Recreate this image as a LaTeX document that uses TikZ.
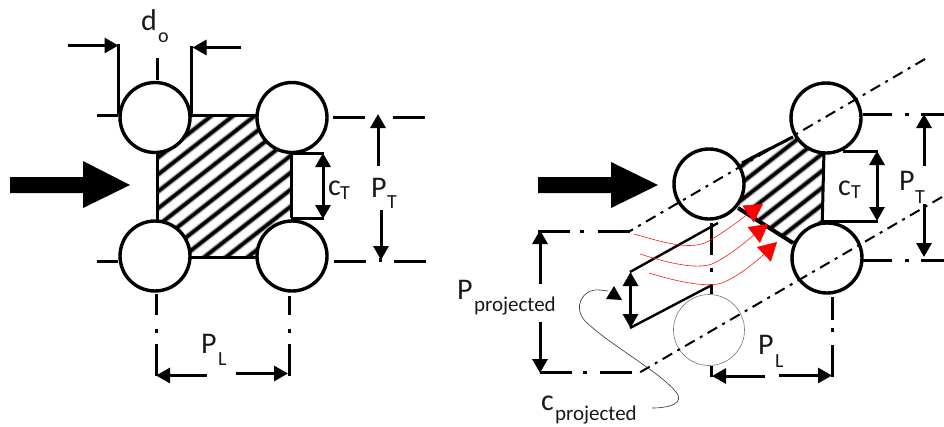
\documentclass[tikz,border=0pt]{standalone}
\usepackage{fontspec}
\setmainfont{Carlito}
\usetikzlibrary{arrows.meta}
\tikzset{
  x=1pt,y=-1pt,
  tube/.style={circle,draw=black,line width=3.4pt,fill=white,minimum size=70pt,inner sep=0pt,outer sep=0pt},
  ghost/.style={circle,draw=black!55,line width=.6pt,minimum size=71pt,inner sep=0pt,outer sep=0pt},
  heavy/.style={line width=3pt,draw=black},
  mid/.style={line width=2.4pt,draw=black},
  dim/.style={line width=3pt,draw=black,-{Triangle[length=14pt,width=15pt]}},
  dimtwo/.style={line width=3pt,draw=black,{Triangle[length=14pt,width=15pt]}-{Triangle[length=14pt,width=15pt]}},
  centre/.style={line width=2pt,draw=black,dash pattern=on 11pt off 6pt on 3pt off 6pt},
  redflow/.style={draw=red!90!white,line width=.6pt,-{Triangle[length=18pt,width=20pt,fill=red,color=red]}},
  leader/.style={draw=black!80,line width=.6pt},
  stripe/.style={line width=6.4pt,draw=black!18},
  stripemid/.style={line width=4.6pt,draw=black!55},
  stripecore/.style={line width=3pt,draw=black},
  lab/.style={inner sep=0pt,outer sep=0pt,font=\fontsize{30}{30}\selectfont,text=black!90},
  sublab/.style={inner sep=0pt,outer sep=0pt,font=\fontsize{20}{20}\selectfont,text=black!90},
  sublabb/.style={inner sep=0pt,outer sep=0pt,font=\fontsize{21}{21}\selectfont,text=black!90},
  bigarrow/.style={fill=black,draw=none}
}
\begin{document}
\begin{tikzpicture}
\useasboundingbox (0,0) rectangle (944,426);
% left hatched region
\begin{scope}
\clip (157,115) rectangle (291,257);
\foreach \k in {-4,...,13}{
  \draw[stripe] ({27+21.7*\k},260) -- ++(220,-172);
  \draw[stripemid] ({27+21.7*\k},260) -- ++(220,-172);
  \draw[stripecore] ({27+21.7*\k},260) -- ++(220,-172);
}
\end{scope}
% hatched region outline
\draw[heavy] (157,115) -- (291,115);
\draw[heavy] (157,257) -- (291,257);
\draw[heavy] (157,115) -- (157,257);
\draw[heavy] (291,153) -- (291,218);
% left tubes
\node[tube] (la) at (155,117.5) {};
\node[tube] (lb) at (292,117.5) {};
\node[tube] (lc) at (155,256) {};
\node[tube] (ld) at (292,256) {};
% flow arrow left
\path[bigarrow] (10,177) -- (83,177) -- (83,161) -- (130,185) -- (83,208) -- (83,193) -- (10,193) -- cycle;
% do dimension
\draw[heavy] (118.5,44) -- (118.5,115);
\draw[heavy] (191,46) -- (191,115);
\draw[heavy] (157,58) -- (157,80);
\draw[dim] (68,45.5) -- (118.5,45.5);
\draw[dim] (241,47.5) -- (192.5,47.5);
\node[lab,anchor=base west] (ldo) at (141,30) {d};
\node[sublab,anchor=base west] (ldos) at (158,42) {o};
% left ticks and PT
\draw[heavy] (97,115) -- (118,115);
\draw[heavy] (97,261) -- (118,261);
\draw[heavy] (333,117.5) -- (365,117.5);
\draw[heavy] (393,117.5) -- (425,117.5);
\draw[heavy] (334,261) -- (366,261);
\draw[heavy] (394,261) -- (426,261);
\draw[heavy] (380,258) -- (380,262);
\draw[heavy] (291,153) -- (324,153);
\draw[heavy] (291,218) -- (324,218);
\draw[dimtwo] (323,153) -- (323,219);
\draw[dim] (378,166) -- (378,114);
\draw[dim] (381,210) -- (381,260);
\node[lab,anchor=base west] (lct) at (328,195) {c};
\node[sublab,anchor=base west] (lcts) at (340,199) {T};
\node[lab,anchor=base west] (lpt) at (371,197) {P};
\node[sublab,anchor=base west] (lpts) at (387,208) {T};
% left PL
\draw[heavy] (156,294) -- (156,315);
\draw[heavy] (156,328.5) -- (156,332.5);
\draw[heavy] (156,344) -- (156,376);
\draw[heavy] (289,296) -- (289,315);
\draw[heavy] (289,328.5) -- (289,332.5);
\draw[heavy] (289,344) -- (289,376);
\draw[dim] (207,375.5) -- (156,375.5);
\draw[dim] (236,373.5) -- (288,373.5);
\node[lab,anchor=base west] (lpl) at (201,353) {P};
\node[sublab,anchor=base west] (lpls) at (218,365) {L};
% right hatched region
\begin{scope}
\clip (735,165) -- (793,135) -- (826,150) -- (821,232) -- (793,243) -- (738,208) -- cycle;
\foreach \k in {-2,...,13}{
  \draw[stripe] ({643+21.7*\k},260) -- ++(220,-172);
  \draw[stripemid] ({643+21.7*\k},260) -- ++(220,-172);
  \draw[stripecore] ({643+21.7*\k},260) -- ++(220,-172);
}
\end{scope}
\draw[heavy] (742,163) -- (793,137);
\draw[heavy] (824,150) -- (822,232);
\draw[line width=4pt,draw=black] (738,208) -- (793,243);
% right tubes
\node[tube] (ra) at (709,184) {};
\node[tube] (rb) at (826,118) {};
\node[tube] (rc) at (827,258) {};
\node[ghost] (rd) at (709,330) {};
% centre lines
\draw[centre] (925,59) -- (630,231);
\draw[centre] (942,197) -- (637,374);
% flow arrow right
\path[bigarrow] (538,177) -- (611,177) -- (611,162) -- (658,185) -- (611,208) -- (611,193) -- (538,193) -- cycle;
% right dimension lines
\draw[heavy] (863,114) -- (892,114);
\draw[heavy] (905,114) -- (909,114);
\draw[heavy] (921,114) -- (944,114);
\draw[heavy] (863,260) -- (892,260);
\draw[heavy] (905,260) -- (909,260);
\draw[heavy] (921,260) -- (944,260);
\draw[heavy] (843,151) -- (878,151);
\draw[heavy] (822,221) -- (878,221);
\draw[dimtwo] (877,151) -- (877,221);
\draw[dim] (924,166) -- (924,114);
\draw[dim] (924,204) -- (924,257);
\node[lab,anchor=base west] (rct) at (838,195) {c};
\node[sublab,anchor=base west] (rcts) at (851,198) {T};
\node[lab,anchor=base west] (rpt) at (899,190) {P};
\node[sublab,anchor=base west] (rpts) at (915,203) {T};
% projected gap
\draw[mid] (630,272) -- (718,223);
\draw[mid] (630,328) -- (710,286);
\draw[dimtwo] (630.5,272) -- (630.5,328);
\draw[heavy] (711,223) -- (711,255);
\draw[heavy] (711,268) -- (711,272);
\draw[heavy] (711,284) -- (711,294);
% P projected
\draw[heavy] (538,231) -- (570,231);
\draw[heavy] (580,231) -- (584,231);
\draw[heavy] (598,231) -- (630,231);
\draw[heavy] (540,372) -- (572,372);
\draw[heavy] (583,372) -- (587,372);
\draw[heavy] (600,372) -- (632,372);
\draw[dim] (540,284) -- (540,230);
\draw[dim] (540,322) -- (540,373);
\node[lab,anchor=base west] (rpp) at (457,299) {P};
\node[sublabb,anchor=base west] (rpps) at (474,311) {projected};
% right PL
\draw[heavy] (711,366) -- (711,377);
\draw[heavy] (832,297) -- (832,320);
\draw[heavy] (832,328) -- (832,332);
\draw[heavy] (832,345) -- (832,377);
\draw[dim] (765,376) -- (712,376);
\draw[dim] (779,375.5) -- (832,375.5);
\node[lab,anchor=base west] (rpl) at (758,354) {P};
\node[sublab,anchor=base west] (rpls) at (775,367) {L};
% red flow lines
\draw[redflow] (634,234) .. controls (665,243) and (690,250) .. (707,242) .. controls (725,232) and (745,216) .. (763,204);
\draw[redflow] (640,254) .. controls (665,262) and (695,270) .. (712,264) .. controls (730,256) and (750,238) .. (768,224);
\draw[redflow] (649,273) .. controls (675,281) and (705,288) .. (722,283) .. controls (740,276) and (760,258) .. (777,242);
% c projected
\node[lab,anchor=base west] (rcp) at (541,410) {c};
\node[sublabb,anchor=base west] (rcps) at (555,420) {projected};
\coordinate (cpstart) at (652,408);
\coordinate (cptip) at (608,291);
\draw[leader] (cpstart) .. controls (670,408) and (685,403) .. (676,392) .. controls (660,372) and (610,345) .. (586,322) .. controls (572,308) and (582,288) .. (600,290) -- (cptip);
\fill[black] (606,299) -- (622,300) -- (614,286) -- cycle;
\end{tikzpicture}
\end{document}
